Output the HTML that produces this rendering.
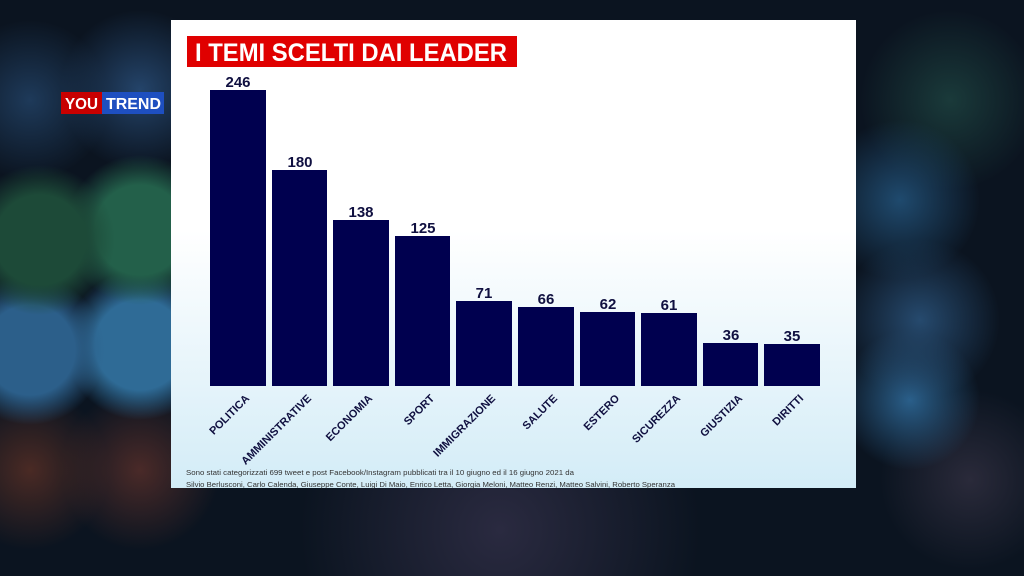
<!DOCTYPE html>
<html><head><meta charset="utf-8"><style>
html,body{margin:0;padding:0;width:1024px;height:576px;overflow:hidden;background:#0b1420}
#bg{position:absolute;left:0;top:0;width:1024px;height:576px;background:
radial-gradient(circle at 40px 240px,#1d4a38 0,#1d4a38 45px,transparent 75px),
radial-gradient(circle at 140px 230px,#23604a 0,#23604a 45px,transparent 75px),
radial-gradient(circle at 30px 100px,#1e3a5a 0,transparent 80px),
radial-gradient(circle at 140px 90px,#24446a 0,transparent 80px),
radial-gradient(circle at 30px 350px,#2c5f8a 0,#2c5f8a 45px,transparent 75px),
radial-gradient(circle at 140px 345px,#2f6b96 0,#2f6b96 45px,transparent 75px),
radial-gradient(circle at 30px 470px,#4a2a24 0,transparent 80px),
radial-gradient(circle at 140px 470px,#4a2a28 0,transparent 80px),
radial-gradient(circle at 900px 200px,#1f4a6e 0,transparent 80px),
radial-gradient(circle at 950px 100px,#1a3a3a 0,transparent 90px),
radial-gradient(circle at 920px 320px,#264a6e 0,transparent 80px),
radial-gradient(circle at 910px 400px,#2a5f8a 0,transparent 70px),
radial-gradient(circle at 970px 480px,#2a2a3a 0,transparent 90px),
radial-gradient(circle at 500px 530px,#2a2a40 0,transparent 200px),
#0b1420}
#panel{position:absolute;left:171px;top:20px;width:685px;height:468px;background:linear-gradient(#ffffff 0%,#ffffff 45%,#d3ecf7 100%)}
</style></head><body>
<div id="bg"></div>
<div id="panel"></div>
<svg width="1024" height="576" style="position:absolute;left:0;top:0" font-family="Liberation Sans, sans-serif">
<rect x="61" y="92" width="41" height="22" fill="#c80000"/>
<rect x="102" y="92" width="62" height="22" fill="#1e4fc0"/>
<text x="65" y="109" fill="#fff" font-size="16" font-weight="bold" textLength="33" lengthAdjust="spacingAndGlyphs">YOU</text>
<text x="106" y="109" fill="#fff" font-size="16" font-weight="bold" textLength="55" lengthAdjust="spacingAndGlyphs">TREND</text>
<rect x="187" y="36" width="330" height="31" fill="#e00000"/>
<text x="195" y="61" fill="#fff" font-size="25" font-weight="bold" textLength="312" lengthAdjust="spacingAndGlyphs">I TEMI SCELTI DAI LEADER</text>
<g fill="#00004f">
<rect x="210" y="90" width="56" height="296"/>
<rect x="272" y="170" width="55" height="216"/>
<rect x="333" y="220" width="56" height="166"/>
<rect x="395" y="236" width="55" height="150"/>
<rect x="456" y="301" width="56" height="85"/>
<rect x="518" y="307" width="56" height="79"/>
<rect x="580" y="312" width="55" height="74"/>
<rect x="641" y="313" width="56" height="73"/>
<rect x="703" y="343" width="55" height="43"/>
<rect x="764" y="344" width="56" height="42"/>
</g>
<g fill="#101040" font-size="15" font-weight="bold" text-anchor="middle">
<text x="238" y="87">246</text><text x="300" y="167">180</text><text x="361" y="217">138</text><text x="423" y="233">125</text><text x="484" y="298">71</text><text x="546" y="304">66</text><text x="608" y="309">62</text><text x="669" y="310">61</text><text x="731" y="340">36</text><text x="792" y="341">35</text>
</g>
<g fill="#101040" font-size="11" font-weight="bold" text-anchor="end">
<text transform="translate(250,399) rotate(-45)">POLITICA</text>
<text transform="translate(312,399) rotate(-45)">AMMINISTRATIVE</text>
<text transform="translate(373,399) rotate(-45)">ECONOMIA</text>
<text transform="translate(435,399) rotate(-45)">SPORT</text>
<text transform="translate(496,399) rotate(-45)">IMMIGRAZIONE</text>
<text transform="translate(558,399) rotate(-45)">SALUTE</text>
<text transform="translate(620,399) rotate(-45)">ESTERO</text>
<text transform="translate(681,399) rotate(-45)">SICUREZZA</text>
<text transform="translate(743,399) rotate(-45)">GIUSTIZIA</text>
<text transform="translate(804,399) rotate(-45)">DIRITTI</text>
</g>
<g fill="#333" font-size="7.5">
<text x="186" y="475" textLength="388" lengthAdjust="spacingAndGlyphs">Sono stati categorizzati 699 tweet e post Facebook/Instagram pubblicati tra il 10 giugno ed il 16 giugno 2021 da</text>
<text x="186" y="487" textLength="489" lengthAdjust="spacingAndGlyphs">Silvio Berlusconi, Carlo Calenda, Giuseppe Conte, Luigi Di Maio, Enrico Letta, Giorgia Meloni, Matteo Renzi, Matteo Salvini, Roberto Speranza</text>
</g>
</svg>
</body></html>
